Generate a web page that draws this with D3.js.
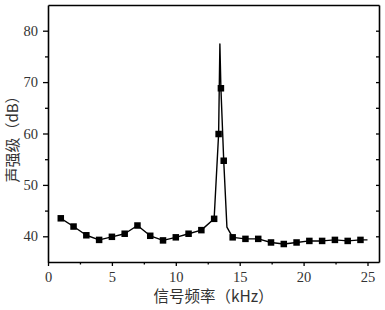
<!DOCTYPE html>
<html><head><meta charset="utf-8">
<script src="https://cdn.jsdelivr.net/npm/d3@7/dist/d3.min.js"></script>
<style>body{margin:0;background:#fff}svg{display:block}</style>
</head><body>
<script>
// data
const freq =   [1, 2, 3, 4, 5, 6, 7, 8, 9, 10, 11, 12, 13, 13.35, 13.45, 13.53, 13.75, 14.0, 14.45, 15.45, 16.45, 17.45, 18.45, 19.45, 20.45, 21.45, 22.45, 23.45, 24.45, 25];
const level =  [43.5, 41.9, 40.2, 39.3, 39.9, 40.5, 42.1, 40.1, 39.2, 39.8, 40.5, 41.2, 43.4, 59.9, 77.4, 68.8, 54.7, 41.8, 39.8, 39.5, 39.5, 38.8, 38.5, 38.8, 39.1, 39.1, 39.3, 39.1, 39.3, 39.3];
const marked = [1,1,1,1,1,1,1,1,1,1,1,1,1,1,0,1,1,0,1,1,1,1,1,1,1,1,1,1,1,0];
const xTicks = [0, 5, 10, 15, 20, 25];
const yTicks = [40, 50, 60, 70, 80];
const xLabel = "信号频率（kHz）";
const yLabel = "声强级（dB）";

const W = 385, H = 310;
const m = {l: 48, r: 6, t: 5, b: 48};
const svg = d3.select("body").append("svg").attr("width", W).attr("height", H);
const x = d3.scaleLinear().domain([0, 25.9]).range([m.l, W - m.r]);
const y = d3.scaleLinear().domain([35, 85]).range([H - m.b, m.t]);
const pts = freq.map((f, i) => ({f, v: level[i], m: marked[i]}));

const tickFont = "'Liberation Serif', 'DejaVu Serif', serif";
// axes
svg.append("g").attr("transform", `translate(0,${H - m.b})`)
  .call(d3.axisBottom(x).tickValues(xTicks).tickSize(4).tickSizeOuter(0).tickPadding(6));
svg.append("g").attr("transform", `translate(${m.l},0)`)
  .call(d3.axisLeft(y).tickValues(yTicks).tickSize(5).tickSizeOuter(0).tickPadding(5));
// minor ticks
svg.append("g").attr("transform", `translate(0,${H - m.b})`)
  .call(d3.axisBottom(x).tickValues([2.5, 7.5, 12.5, 17.5, 22.5]).tickSize(2.5).tickSizeOuter(0).tickFormat(""))
  .select(".domain").remove();
svg.append("g").attr("transform", `translate(${m.l},0)`)
  .call(d3.axisLeft(y).tickValues([45, 55, 65, 75]).tickSize(3).tickSizeOuter(0).tickFormat(""))
  .select(".domain").remove();
// right axis inward ticks
svg.append("g").attr("transform", `translate(${W - m.r},0)`)
  .call(d3.axisRight(y).tickValues(d3.range(40, 85, 5)).tickSize(-3).tickSizeOuter(0).tickFormat(""));
// top border
svg.append("g").attr("transform", `translate(0,${m.t})`)
  .call(d3.axisTop(x).tickValues([]).tickSizeOuter(0));

svg.selectAll(".domain").attr("stroke", "#000").attr("stroke-width", 1.6);
svg.selectAll(".tick line").attr("stroke", "#000").attr("stroke-width", 1.3);
svg.selectAll(".tick text").style("font-family", tickFont).style("font-size", "14.5px").attr("fill", "#333");

// line
svg.append("path").datum(pts)
  .attr("fill", "none").attr("stroke", "#000").attr("stroke-width", 1.4)
  .attr("stroke-linejoin", "round")
  .attr("d", d3.line().x(d => x(d.f)).y(d => y(d.v)));
// markers
const s = 6.5;
svg.selectAll("rect.mk").data(pts.filter(d => d.m)).join("rect").attr("class", "mk")
  .attr("x", d => x(d.f) - s / 2).attr("y", d => y(d.v) - s / 2)
  .attr("width", s).attr("height", s).attr("fill", "#000");

// labels
const cjk = "'Noto Sans CJK SC', 'Noto Sans', sans-serif";
svg.append("text").attr("x", (m.l + W - m.r) / 2).attr("y", 302)
  .attr("text-anchor", "middle").style("font-family", cjk).style("font-size", "15.5px").attr("fill", "#333")
  .text(xLabel);
svg.append("text").attr("transform", `translate(18,${(m.t + H - m.b) / 2 + 2}) rotate(-90)`)
  .attr("text-anchor", "middle").style("font-family", cjk).style("font-size", "15px").attr("fill", "#333")
  .text(yLabel);
</script>
</body></html>
